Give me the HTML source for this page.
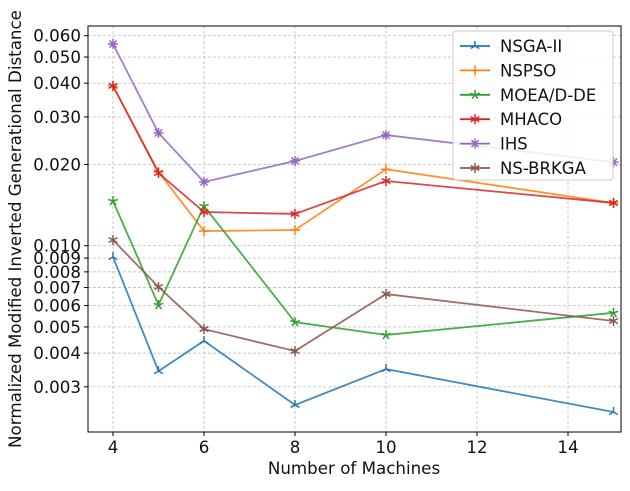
<!DOCTYPE html>
<html><head><meta charset="utf-8"><style>
body{margin:0;background:#fff}
svg{font-family:"DejaVu Sans","Liberation Sans",sans-serif}
</style></head><body>
<svg id="c" width="630" height="486" viewBox="0 0 630 486"></svg>
<script>
const xs=[4,5,6,8,10,15];
const names=["NSGA-II","NSPSO","MOEA/D-DE","MHACO","IHS","NS-BRKGA"];
const colors=["#1f77b4","#ff7f0e","#2ca02c","#d62728","#9467bd","#8c564b"];
const sNSGA=[0.00908,0.00343,0.00444,0.00257,0.00349,0.00242];
const sNSPSO=[0.0391,0.01875,0.01133,0.01143,0.0192,0.0144];
const sMOEA=[0.01464,0.00603,0.01403,0.00521,0.00467,0.00564];
const sMHACO=[0.0391,0.01859,0.01333,0.01311,0.01737,0.0144];
const sIHS=[0.0559,0.02616,0.01722,0.0206,0.0257,0.0204];
const sBRKGA=[0.0105,0.00703,0.00491,0.00407,0.00662,0.00526];
const series=[sNSGA,sNSPSO,sMOEA,sMHACO,sIHS,sBRKGA];
const spokes=[3,4,5,6,8,6];
const xTicks=[4,6,8,10,12,14];
const yTicks=[0.003,0.004,0.005,0.006,0.007,0.008,0.009,0.010,0.020,0.030,0.040,0.050,0.060];
const yLabels=["0.003","0.004","0.005","0.006","0.007","0.008","0.009","0.010","0.020","0.030","0.040","0.050","0.060"];
const L=88,R=621,T=26,B=432;
const FS=16.7;
const X=v=>113+(v-4)*45.5;
const Y=v=>245.7-(Math.log10(v)+2)*269.9;
const svg=document.getElementById('c');
const NS='http://www.w3.org/2000/svg';
function el(t,a,p){const e=document.createElementNS(NS,t);for(const k in a)e.setAttribute(k,a[k]);(p||svg).appendChild(e);return e;}
xTicks.forEach(t=>{
 const g=el('line',{x1:X(t),x2:X(t),y1:T,y2:B,stroke:'#b0b0b0','stroke-width':0.7,'stroke-dasharray':'3,2'});
 
 
 const tk=el('line',{x1:X(t),x2:X(t),y1:B,y2:B+4,stroke:'#000'});
 
 
 const tx=el('text',{x:X(t),y:B+21,'text-anchor':'middle','font-size':FS,fill:'#111'});tx.textContent=t;
 
 
});
yTicks.forEach((t,i)=>{
 const g=el('line',{x1:L,x2:R,y1:Y(t),y2:Y(t),stroke:'#b0b0b0','stroke-width':0.7,'stroke-dasharray':'3,2'});
 
 
 const tk=el('line',{x1:L-4,x2:L,y1:Y(t),y2:Y(t),stroke:'#000'});
 
 
 const tx=el('text',{x:L-7,y:Y(t)+6,'text-anchor':'end','font-size':FS,fill:'#111'});tx.textContent=yLabels[i];
 
 
});
function marker(cx,cy,n,c,p){
 for(let k=0;k<n;k++){const a=-Math.PI/2+k*2*Math.PI/n;
  el('line',{x1:cx,y1:cy,x2:cx+5*Math.cos(a),y2:cy+5*Math.sin(a),stroke:c,'stroke-width':1.5},p);}
}
series.forEach((s,i)=>{
 const g=el('g',{});
 
 
 el('polyline',{points:s.map((v,j)=>X(xs[j])+','+Y(v)).join(' '),fill:'none',stroke:colors[i],'stroke-width':1.8,opacity:0.85},g);
 s.forEach((v,j)=>marker(X(xs[j]),Y(v),spokes[i],colors[i],g));
});
const fr=el('rect',{x:L,y:T,width:R-L,height:B-T,fill:'none',stroke:'#000','stroke-width':1});


const lg=el('g',{});


el('rect',{x:453,y:31,width:160,height:149,rx:3,fill:'#fff','fill-opacity':0.85,stroke:'#ccc'},lg);
names.forEach((n,i)=>{
 const y=46+i*24.4;
 const e=el('g',{},lg);
 
 
 el('line',{x1:460,x2:490,y1:y,y2:y,stroke:colors[i],'stroke-width':1.8},e);
 marker(475,y,spokes[i],colors[i],e);
 const t=el('text',{x:500,y:y+6,'font-size':16.5,fill:'#111'},e);t.textContent=n;
});
const xl=el('text',{x:354,y:474,'text-anchor':'middle','font-size':FS,fill:'#111'});xl.textContent='Number of Machines';


const yl=el('text',{x:0,y:0,'text-anchor':'middle','font-size':FS,fill:'#111',transform:'translate(21,229) rotate(-90)'});yl.textContent='Normalized Modified Inverted Generational Distance';


</script>
</body></html>
